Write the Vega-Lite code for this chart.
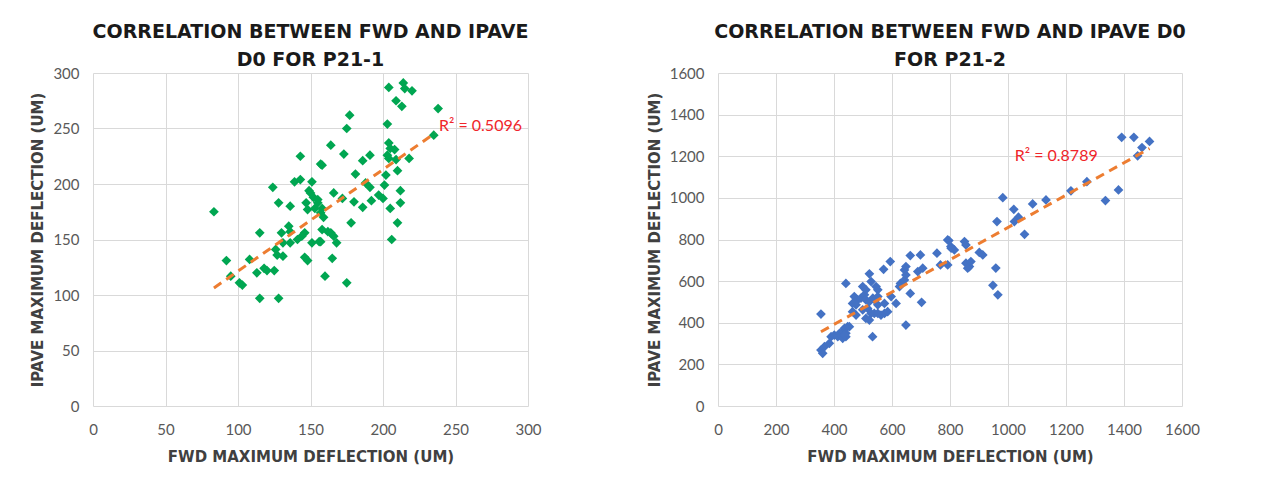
{
  "$schema": "https://vega.github.io/schema/vega-lite/v6.json",
  "background": "white",
  "padding": {"left": 30, "top": 23, "right": 5, "bottom": 5},
  "spacing": 105,
  "datasets": {
    "p1": [
      {"fwd": 83.4, "ipave": 175}, {"fwd": 92, "ipave": 131}, {"fwd": 95, "ipave": 117}, {"fwd": 101, "ipave": 111},
      {"fwd": 103, "ipave": 109}, {"fwd": 108, "ipave": 132}, {"fwd": 113, "ipave": 120}, {"fwd": 115, "ipave": 156},
      {"fwd": 115, "ipave": 97}, {"fwd": 118, "ipave": 124}, {"fwd": 120, "ipave": 122}, {"fwd": 124, "ipave": 197},
      {"fwd": 125, "ipave": 122}, {"fwd": 126, "ipave": 141}, {"fwd": 127, "ipave": 136}, {"fwd": 128, "ipave": 97},
      {"fwd": 128, "ipave": 183}, {"fwd": 130, "ipave": 156}, {"fwd": 131, "ipave": 147}, {"fwd": 131, "ipave": 135},
      {"fwd": 135, "ipave": 162}, {"fwd": 136, "ipave": 157}, {"fwd": 136, "ipave": 180}, {"fwd": 136, "ipave": 147},
      {"fwd": 139, "ipave": 202}, {"fwd": 141, "ipave": 150}, {"fwd": 143, "ipave": 225}, {"fwd": 143, "ipave": 204},
      {"fwd": 146, "ipave": 156}, {"fwd": 146, "ipave": 134}, {"fwd": 147, "ipave": 183}, {"fwd": 148, "ipave": 131},
      {"fwd": 148, "ipave": 177}, {"fwd": 149, "ipave": 194}, {"fwd": 150, "ipave": 192}, {"fwd": 151, "ipave": 202},
      {"fwd": 151, "ipave": 147}, {"fwd": 152, "ipave": 188}, {"fwd": 155, "ipave": 186}, {"fwd": 155, "ipave": 183},
      {"fwd": 156, "ipave": 148}, {"fwd": 157, "ipave": 174}, {"fwd": 157, "ipave": 218}, {"fwd": 157, "ipave": 148},
      {"fwd": 158, "ipave": 178}, {"fwd": 158, "ipave": 159}, {"fwd": 158, "ipave": 217}, {"fwd": 160, "ipave": 117},
      {"fwd": 162, "ipave": 157}, {"fwd": 164, "ipave": 156}, {"fwd": 164, "ipave": 235}, {"fwd": 165, "ipave": 133},
      {"fwd": 166, "ipave": 153}, {"fwd": 166, "ipave": 192}, {"fwd": 168, "ipave": 147}, {"fwd": 172, "ipave": 187},
      {"fwd": 173, "ipave": 227}, {"fwd": 175, "ipave": 111}, {"fwd": 175, "ipave": 250}, {"fwd": 177, "ipave": 262},
      {"fwd": 178, "ipave": 165}, {"fwd": 180, "ipave": 184}, {"fwd": 181, "ipave": 209}, {"fwd": 186, "ipave": 179},
      {"fwd": 186, "ipave": 221}, {"fwd": 188, "ipave": 201}, {"fwd": 191, "ipave": 226}, {"fwd": 191, "ipave": 197},
      {"fwd": 192, "ipave": 185}, {"fwd": 197, "ipave": 190}, {"fwd": 200, "ipave": 187}, {"fwd": 201, "ipave": 199},
      {"fwd": 202, "ipave": 208}, {"fwd": 203, "ipave": 226}, {"fwd": 203, "ipave": 254}, {"fwd": 204, "ipave": 287},
      {"fwd": 204, "ipave": 237}, {"fwd": 204, "ipave": 223}, {"fwd": 205, "ipave": 232}, {"fwd": 205, "ipave": 178},
      {"fwd": 206, "ipave": 150}, {"fwd": 208, "ipave": 231}, {"fwd": 209, "ipave": 222}, {"fwd": 209, "ipave": 275},
      {"fwd": 210, "ipave": 165}, {"fwd": 210, "ipave": 212}, {"fwd": 212, "ipave": 183}, {"fwd": 212, "ipave": 194},
      {"fwd": 213, "ipave": 270}, {"fwd": 214, "ipave": 291}, {"fwd": 215, "ipave": 286}, {"fwd": 218, "ipave": 223},
      {"fwd": 220, "ipave": 284}, {"fwd": 235, "ipave": 244}, {"fwd": 238, "ipave": 268}, {"fwd": 144, "ipave": 153},
      {"fwd": 159, "ipave": 170}, {"fwd": 153, "ipave": 178}
    ],
    "t1": [{"fwd": 83.4, "ipave": 106.3}, {"fwd": 236, "ipave": 246}],
    "r1": [{"fwd": 238.6, "ipave": 252.5, "label": "R² = 0.5096"}],
    "p2": [
      {"fwd": 355, "ipave": 269}, {"fwd": 361, "ipave": 253}, {"fwd": 355, "ipave": 442}, {"fwd": 367, "ipave": 285},
      {"fwd": 384, "ipave": 301}, {"fwd": 390, "ipave": 333}, {"fwd": 401, "ipave": 341}, {"fwd": 413, "ipave": 333},
      {"fwd": 419, "ipave": 349}, {"fwd": 424, "ipave": 341}, {"fwd": 430, "ipave": 357}, {"fwd": 436, "ipave": 373},
      {"fwd": 441, "ipave": 349}, {"fwd": 447, "ipave": 381}, {"fwd": 441, "ipave": 333}, {"fwd": 430, "ipave": 325},
      {"fwd": 436, "ipave": 341}, {"fwd": 453, "ipave": 381}, {"fwd": 441, "ipave": 589}, {"fwd": 464, "ipave": 453},
      {"fwd": 476, "ipave": 437}, {"fwd": 499, "ipave": 462}, {"fwd": 516, "ipave": 469}, {"fwd": 528, "ipave": 445},
      {"fwd": 522, "ipave": 413}, {"fwd": 510, "ipave": 421}, {"fwd": 539, "ipave": 445}, {"fwd": 551, "ipave": 445},
      {"fwd": 562, "ipave": 437}, {"fwd": 574, "ipave": 445}, {"fwd": 585, "ipave": 453}, {"fwd": 533, "ipave": 333},
      {"fwd": 470, "ipave": 526}, {"fwd": 482, "ipave": 510}, {"fwd": 493, "ipave": 518}, {"fwd": 505, "ipave": 534},
      {"fwd": 510, "ipave": 510}, {"fwd": 522, "ipave": 502}, {"fwd": 534, "ipave": 518}, {"fwd": 540, "ipave": 510},
      {"fwd": 551, "ipave": 526}, {"fwd": 464, "ipave": 493}, {"fwd": 476, "ipave": 486}, {"fwd": 551, "ipave": 486},
      {"fwd": 574, "ipave": 493}, {"fwd": 597, "ipave": 526}, {"fwd": 614, "ipave": 493}, {"fwd": 522, "ipave": 635},
      {"fwd": 528, "ipave": 598}, {"fwd": 499, "ipave": 574}, {"fwd": 510, "ipave": 558}, {"fwd": 545, "ipave": 574},
      {"fwd": 551, "ipave": 558}, {"fwd": 571, "ipave": 657}, {"fwd": 594, "ipave": 694}, {"fwd": 629, "ipave": 589},
      {"fwd": 643, "ipave": 606}, {"fwd": 648, "ipave": 630}, {"fwd": 643, "ipave": 654}, {"fwd": 648, "ipave": 670},
      {"fwd": 626, "ipave": 574}, {"fwd": 663, "ipave": 723}, {"fwd": 698, "ipave": 726}, {"fwd": 663, "ipave": 541},
      {"fwd": 702, "ipave": 498}, {"fwd": 648, "ipave": 389}, {"fwd": 689, "ipave": 646}, {"fwd": 706, "ipave": 662},
      {"fwd": 755, "ipave": 734}, {"fwd": 767, "ipave": 678}, {"fwd": 792, "ipave": 678}, {"fwd": 792, "ipave": 798},
      {"fwd": 803, "ipave": 766}, {"fwd": 815, "ipave": 750}, {"fwd": 850, "ipave": 790}, {"fwd": 855, "ipave": 774},
      {"fwd": 855, "ipave": 686}, {"fwd": 867, "ipave": 670}, {"fwd": 861, "ipave": 662}, {"fwd": 872, "ipave": 694},
      {"fwd": 796, "ipave": 795}, {"fwd": 804, "ipave": 758}, {"fwd": 901, "ipave": 738}, {"fwd": 913, "ipave": 726},
      {"fwd": 958, "ipave": 663}, {"fwd": 948, "ipave": 580}, {"fwd": 965, "ipave": 534}, {"fwd": 962, "ipave": 886},
      {"fwd": 982, "ipave": 1001}, {"fwd": 1020, "ipave": 945}, {"fwd": 1036, "ipave": 907}, {"fwd": 1022, "ipave": 886},
      {"fwd": 1057, "ipave": 825}, {"fwd": 1085, "ipave": 971}, {"fwd": 1131, "ipave": 990}, {"fwd": 1217, "ipave": 1034},
      {"fwd": 1272, "ipave": 1078}, {"fwd": 1336, "ipave": 987}, {"fwd": 1381, "ipave": 1038}, {"fwd": 1392, "ipave": 1291},
      {"fwd": 1434, "ipave": 1291}, {"fwd": 1447, "ipave": 1202}, {"fwd": 1462, "ipave": 1242}, {"fwd": 1488, "ipave": 1271}
    ],
    "t2": [{"fwd": 355, "ipave": 357}, {"fwd": 1488, "ipave": 1237}],
    "r2": [{"fwd": 1023, "ipave": 1199, "label": "R² = 0.8789"}]
  },
  "hconcat": [
    {
      "width": 435,
      "height": 333,
      "title": {"text": ["CORRELATION BETWEEN FWD AND IPAVE", "D0 FOR P21-1"]},
      "layer": [
        {
          "data": {"name": "p1"},
          "mark": {"type": "point", "shape": "diamond", "filled": true, "size": 95, "color": "#00A651", "opacity": 1},
          "encoding": {
            "x": {"field": "fwd", "type": "quantitative", "scale": {"domain": [0, 300], "nice": false},
                  "axis": {"values": [0, 50, 100, 150, 200, 250, 300], "format": "d", "title": "FWD MAXIMUM DEFLECTION (UM)"}},
            "y": {"field": "ipave", "type": "quantitative", "scale": {"domain": [0, 300], "nice": false},
                  "axis": {"values": [0, 50, 100, 150, 200, 250, 300], "format": "d", "title": "IPAVE MAXIMUM DEFLECTION (UM)"}}
          }
        },
        {
          "data": {"name": "t1"},
          "mark": {"type": "line", "color": "#ED7D31", "strokeWidth": 3, "strokeDash": [9, 6]},
          "encoding": {
            "x": {"field": "fwd", "type": "quantitative"},
            "y": {"field": "ipave", "type": "quantitative"}
          }
        },
        {
          "data": {"name": "r1"},
          "mark": {"type": "text", "align": "left", "baseline": "middle", "color": "#F0252A", "font": "Lato", "fontSize": 16},
          "encoding": {
            "x": {"field": "fwd", "type": "quantitative"},
            "y": {"field": "ipave", "type": "quantitative"},
            "text": {"field": "label"}
          }
        }
      ]
    },
    {
      "width": 464,
      "height": 333,
      "title": {"text": ["CORRELATION BETWEEN FWD AND IPAVE D0", "FOR P21-2"]},
      "layer": [
        {
          "data": {"name": "p2"},
          "mark": {"type": "point", "shape": "diamond", "filled": true, "size": 95, "color": "#4472C4", "opacity": 1},
          "encoding": {
            "x": {"field": "fwd", "type": "quantitative", "scale": {"domain": [0, 1600], "nice": false},
                  "axis": {"values": [0, 200, 400, 600, 800, 1000, 1200, 1400, 1600], "format": "d", "title": "FWD MAXIMUM DEFLECTION (UM)"}},
            "y": {"field": "ipave", "type": "quantitative", "scale": {"domain": [0, 1600], "nice": false},
                  "axis": {"values": [0, 200, 400, 600, 800, 1000, 1200, 1400, 1600], "format": "d", "title": "IPAVE MAXIMUM DEFLECTION (UM)"}}
          }
        },
        {
          "data": {"name": "t2"},
          "mark": {"type": "line", "color": "#ED7D31", "strokeWidth": 3, "strokeDash": [9, 6]},
          "encoding": {
            "x": {"field": "fwd", "type": "quantitative"},
            "y": {"field": "ipave", "type": "quantitative"}
          }
        },
        {
          "data": {"name": "r2"},
          "mark": {"type": "text", "align": "left", "baseline": "middle", "color": "#F0252A", "font": "Lato", "fontSize": 16},
          "encoding": {
            "x": {"field": "fwd", "type": "quantitative"},
            "y": {"field": "ipave", "type": "quantitative"},
            "text": {"field": "label"}
          }
        }
      ]
    }
  ],
  "config": {
    "view": {"stroke": null},
    "title": {"font": "DejaVu Sans", "fontSize": 19, "fontWeight": "bold", "color": "#1a1a1a", "lineHeight": 28, "anchor": "middle", "offset": -4},
    "axis": {
      "grid": true, "gridColor": "#D9D9D9", "gridWidth": 1,
      "domain": false, "ticks": false, "labelFlush": false, "labelOverlap": false,
      "labelFont": "Lato", "labelFontSize": 15, "labelColor": "#595959",
      "titleFont": "DejaVu Sans", "titleFontSize": 15, "titleFontWeight": "bold", "titleColor": "#404040"
    },
    "axisX": {"labelPadding": 16, "titlePadding": 12},
    "axisY": {"labelPadding": 14, "titlePadding": 7}
  }
}
